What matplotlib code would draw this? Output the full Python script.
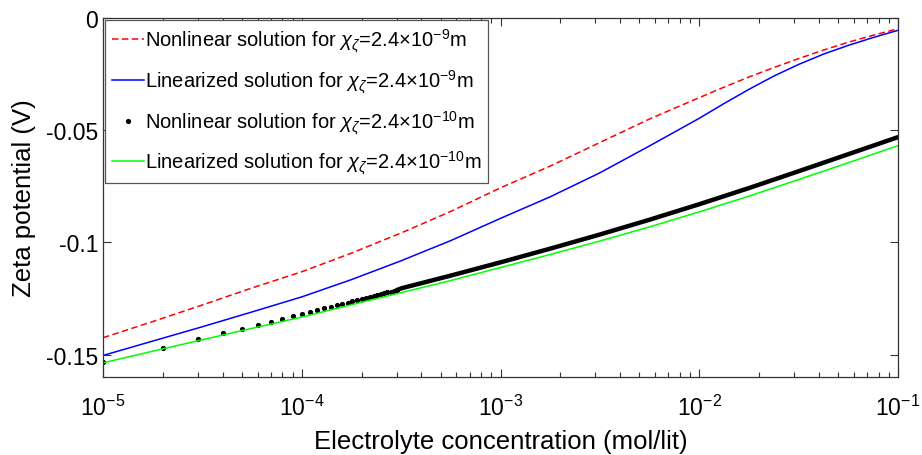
import matplotlib
matplotlib.use('Agg')
import matplotlib.pyplot as plt
from matplotlib.ticker import LogLocator, NullFormatter

plt.rcParams.update({
    'font.family': ['Liberation Sans', 'DejaVu Sans'],
    'mathtext.fontset': 'custom',
    'mathtext.rm': 'Liberation Sans',
    'mathtext.it': 'Liberation Sans:italic',
    'mathtext.bf': 'Liberation Sans:bold',
    'axes.unicode_minus': False,
    'font.size': 15,
})

# ---- data ----
conc_9 = [1.0e-5, 1.778e-5, 3.162e-5, 5.623e-5, 1.0e-4, 1.778e-4, 3.162e-4, 5.623e-4,
          1.0e-3, 1.778e-3, 3.162e-3, 5.623e-3, 1.0e-2, 1.334e-2, 1.778e-2, 2.371e-2,
          3.162e-2, 4.217e-2, 5.623e-2, 7.499e-2, 1.0e-1]
nonlin_9 = [-0.1425, -0.1353, -0.1279, -0.1203, -0.1131, -0.1048, -0.0958, -0.0862,
            -0.0757, -0.0660, -0.0555, -0.0450, -0.0355, -0.0308, -0.0263, -0.0221,
            -0.0181, -0.0143, -0.0108, -0.0077, -0.0048]
lin_9 = [-0.1504, -0.1440, -0.1376, -0.1310, -0.1243, -0.1166, -0.1082, -0.0992,
         -0.0893, -0.0797, -0.0690, -0.0570, -0.0447, -0.0381, -0.0318, -0.0259,
         -0.0207, -0.0161, -0.0122, -0.0087, -0.0055]

conc_10 = [1.0e-5, 1.778e-5, 3.162e-5, 5.623e-5, 1.0e-4, 1.778e-4, 3.162e-4, 5.623e-4,
           1.0e-3, 1.778e-3, 3.162e-3, 5.623e-3, 1.0e-2, 1.778e-2, 3.162e-2, 5.623e-2, 1.0e-1]
lin_10 = [-0.1537, -0.1485, -0.1434, -0.1383, -0.1333, -0.1278, -0.1224, -0.1170,
          -0.1112, -0.1054, -0.0994, -0.0931, -0.0864, -0.0794, -0.0720, -0.0645, -0.0569]

# nonlinear 2.4e-10: individually visible dots (c = 1e-5 ... 3e-4)
dots_conc = [1e-5, 2e-5, 3e-5, 4e-5, 5e-5, 6e-5, 7e-5, 8e-5, 9e-5, 1e-4,
             1.1e-4, 1.2e-4, 1.3e-4, 1.4e-4, 1.5e-4, 1.6e-4, 1.7e-4, 1.8e-4, 1.9e-4, 2.0e-4,
             2.1e-4, 2.2e-4, 2.3e-4, 2.4e-4, 2.5e-4, 2.6e-4, 2.7e-4, 2.8e-4, 2.9e-4, 3.0e-4]
dots_val = [-0.1534, -0.1470, -0.1432, -0.1406, -0.1385, -0.1370, -0.1355, -0.1342, -0.1329, -0.1319,
            -0.1310, -0.1301, -0.1294, -0.1287, -0.1280, -0.1274, -0.1268, -0.1262, -0.1257, -0.1252,
            -0.1247, -0.1243, -0.1239, -0.1235, -0.1231, -0.1227, -0.1223, -0.1220, -0.1216, -0.1213]
# same series where the dots merge into a solid band
dense_conc = [3.0e-4, 3.162e-4, 5.623e-4, 1.0e-3, 1.778e-3, 3.162e-3, 5.623e-3,
              1.0e-2, 1.778e-2, 3.162e-2, 5.623e-2, 1.0e-1]
dense_val = [-0.1213, -0.1205, -0.1148, -0.1089, -0.1028, -0.0965, -0.0899,
             -0.0830, -0.0758, -0.0683, -0.0607, -0.0531]

labels = [
    r'Nonlinear solution for $\chi_{\zeta}$=2.4$\times$10$^{-9}$m',
    r'Linearized solution for $\chi_{\zeta}$=2.4$\times$10$^{-9}$m',
    r'Nonlinear solution for $\chi_{\zeta}$=2.4$\times$10$^{-10}$m',
    r'Linearized solution for $\chi_{\zeta}$=2.4$\times$10$^{-10}$m',
]
xticks = [1e-5, 1e-4, 1e-3, 1e-2, 1e-1]
xticklabels = [r'$\mathregular{10^{-5}}$', r'$\mathregular{10^{-4}}$', r'$\mathregular{10^{-3}}$',
               r'$\mathregular{10^{-2}}$', r'$\mathregular{10^{-1}}$']
yticks = [-0.15, -0.1, -0.05, 0]
yticklabels = ['-0.15', '-0.1', '-0.05', '0']

fig = plt.figure(figsize=(9.22, 4.56), dpi=100)
ax = fig.add_axes([103/922, (456-378)/456, (898-103)/922, (378-19)/456])

h1, = ax.plot(conc_9, nonlin_9, color='#ff0000', lw=1.1, dashes=(4.2, 2.3), label=labels[0])
h2, = ax.plot(conc_9, lin_9, color='#0000ff', lw=1.1, label=labels[1])
ax.plot(dense_conc, dense_val, color='black', lw=3.2, solid_capstyle='round')
h3, = ax.plot(dots_conc, dots_val, linestyle='none', marker='.', ms=5.5, color='black', label=labels[2])
h4, = ax.plot(conc_10, lin_10, color='#00ff00', lw=1.1, label=labels[3])

ax.set_xscale('log')
ax.set_xlim(1e-5, 1e-1)
ax.set_ylim(-0.16, 0)
ax.set_xticks(xticks)
ax.set_xticklabels(xticklabels)
ax.xaxis.set_minor_locator(LogLocator(base=10, subs=[2, 3, 4, 5, 6, 7, 8, 9], numticks=20))
ax.xaxis.set_minor_formatter(NullFormatter())
ax.set_yticks(yticks)
ax.set_yticklabels(yticklabels)

ax.tick_params(which='both', direction='in', top=True, right=True, width=0.8, color='#333333')
ax.tick_params(which='major', length=6, labelsize=16.5)
ax.tick_params(which='minor', length=3.5)
ax.tick_params(axis='x', which='major', pad=13)
ax.tick_params(axis='y', which='major', pad=3.5)
for s in ax.spines.values():
    s.set_linewidth(0.9)
    s.set_color('#333333')

ax.set_xlabel('Electrolyte concentration (mol/lit)', fontsize=18.5, labelpad=6)
ax.set_ylabel('Zeta potential (V)', fontsize=18.5, labelpad=7)

leg = ax.legend(handles=[h1, h2, h3, h4], loc='upper left', fontsize=14.5, frameon=True,
                fancybox=False, framealpha=1, edgecolor='#555555', borderaxespad=0.08,
                handlelength=1.6, handletextpad=0.05, labelspacing=0.67, borderpad=0.35,
                numpoints=1)
leg.get_frame().set_linewidth(0.9)

fig.savefig('out.png', dpi=100)
